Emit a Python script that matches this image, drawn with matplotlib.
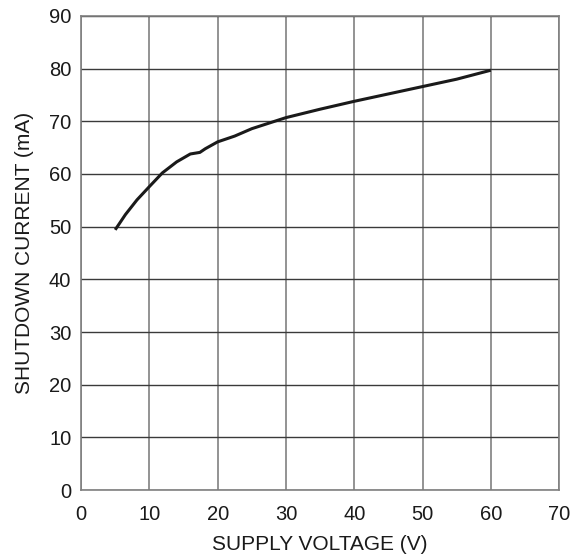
import matplotlib
matplotlib.use("Agg")
import matplotlib.pyplot as plt

# supply voltage (V) vs shutdown current (mA)
voltage = [5, 6.5, 8.2, 10, 11.9, 14, 16, 17.4, 18.2, 20, 22.5, 25,
           30, 35, 40, 45, 50, 55, 60]
current = [49.4, 52.3, 55.1, 57.6, 60.2, 62.3, 63.8, 64.1, 64.8, 66.1,
           67.2, 68.6, 70.7, 72.3, 73.8, 75.2, 76.6, 78.0, 79.7]

x_ticks = [0, 10, 20, 30, 40, 50, 60, 70]
y_ticks = [0, 10, 20, 30, 40, 50, 60, 70, 80, 90]

plt.rcParams['font.family'] = ['Liberation Sans', 'DejaVu Sans']

fig = plt.figure(figsize=(5.83, 5.59), dpi=100)
ax = fig.add_axes([0.139, 0.1234, 0.82, 0.848])

for xv in x_ticks:
    ax.axvline(xv, color="#808080", lw=1.2, zorder=1)
for yv in y_ticks:
    ax.axhline(yv, color="#3a3a3a", lw=1.0, zorder=1)

ax.plot(voltage, current, color="#1a1a1a", lw=2.2, zorder=3,
        solid_joinstyle="round", solid_capstyle="butt")

ax.set_xlim(0, 70)
ax.set_ylim(0, 90)
ax.set_xticks(x_ticks)
ax.set_yticks(y_ticks)
ax.tick_params(axis="x", length=0, labelsize=14.5, pad=11, colors="#1a1a1a")
ax.tick_params(axis="y", length=0, labelsize=14.5, pad=7, colors="#1a1a1a")
for s in ax.spines.values():
    s.set_color("#808080")
    s.set_linewidth(1.2)

ax.set_xlabel("SUPPLY VOLTAGE (V)", fontsize=15, labelpad=8, color="#1a1a1a")
ax.set_ylabel("SHUTDOWN CURRENT (mA)", fontsize=15, labelpad=11, color="#1a1a1a")

fig.savefig("out.png", dpi=100)
